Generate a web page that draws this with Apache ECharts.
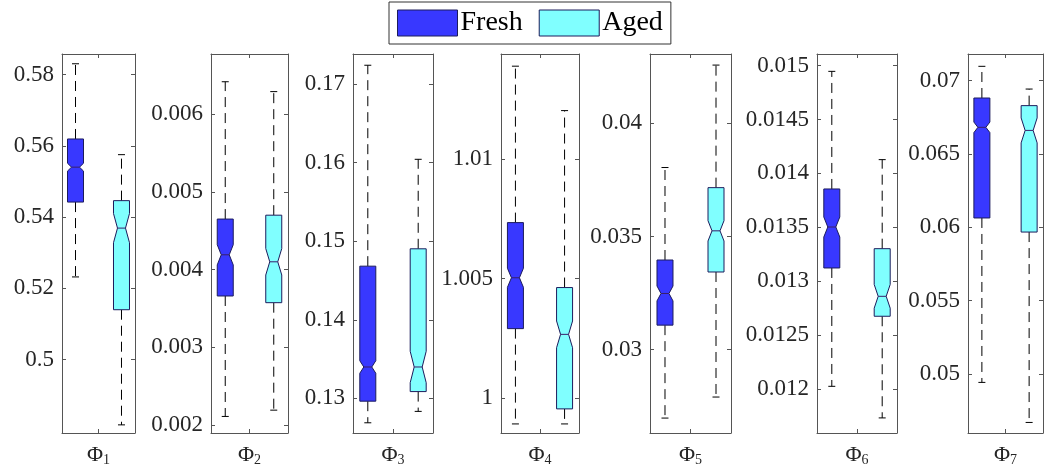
<!DOCTYPE html>
<html>
<head>
<meta charset="utf-8">
<script src="https://cdn.jsdelivr.net/npm/echarts@6/dist/echarts.min.js"></script>
<style>
html,body{margin:0;padding:0;background:#fff;}
#chart{width:1045px;height:471px;}
</style>
</head>
<body>
<div id="chart"></div>
<script>
// ---- data ----
const panelSubs = ['1', '2', '3', '4', '5', '6', '7'];
const groupNames = ['Fresh', 'Aged'];
const groupPos = [0.185, 0.815];

const yMin = [0.47942, 0.001897, 0.1256, 0.99853, 0.02631, 0.011592, 0.04598];
const yMax = [0.58574, 0.006774, 0.17383, 1.0144, 0.04307, 0.015108, 0.07182];
const yTicks = [
  [0.5, 0.52, 0.54, 0.56, 0.58],
  [0.002, 0.003, 0.004, 0.005, 0.006],
  [0.13, 0.14, 0.15, 0.16, 0.17],
  [1, 1.005, 1.01],
  [0.03, 0.035, 0.04],
  [0.012, 0.0125, 0.013, 0.0135, 0.014, 0.0145, 0.015],
  [0.05, 0.055, 0.06, 0.065, 0.07]
];

const freshUpper  = [0.5830, 0.006417, 0.1724, 1.01389, 0.03805, 0.014947, 0.07098];
const freshQ3     = [0.5619, 0.00465,  0.14683, 1.00734, 0.03396, 0.013856, 0.06882];
const freshMedian = [0.5540, 0.00419,  0.1340, 1.00503, 0.03248, 0.013503, 0.06682];
const freshQ1     = [0.5442, 0.00366,  0.12965, 1.0029, 0.03108, 0.013123, 0.06064];
const freshLower  = [0.5232, 0.00211,  0.1269, 0.99891, 0.02697, 0.012025, 0.04943];
const freshNotch  = [0.0011, 0.00013,  0.0008, 0.0004, 0.00033, 0.000093, 0.00036];

const agedUpper  = [0.5575, 0.00629,  0.16043, 1.01203, 0.04258, 0.014128, 0.06943];
const agedQ3     = [0.5446, 0.0047,   0.14904, 1.00462, 0.03716, 0.013302, 0.0683];
const agedMedian = [0.5369, 0.0041,   0.1340, 1.00266, 0.03525, 0.01286, 0.06661];
const agedQ1     = [0.5140, 0.003574, 0.13087, 0.99954, 0.03343, 0.012675, 0.05968];
const agedLower  = [0.4817, 0.002191, 0.12835, 0.99891, 0.0279, 0.011732, 0.0467];
const agedNotch  = [0.0041, 0.00017,  0.0020, 0.00056, 0.00045, 0.00011, 0.00085];

// ---- layout / style ----
const gridLeft  = [62, 211, 353, 501, 650, 817, 968];
const gridWidth = [73, 77, 80, 78, 81, 80, 75];
const gridTop = 54, gridHeight = 379;
const fillColors = ['#3838ff', '#80ffff'];
const edgeColor = '#1c1c5c';
const frameColor = '#555555';
const textColor = '#262626';
const serif = 'Liberation Serif';

const groups = [
  {upper: freshUpper, q3: freshQ3, med: freshMedian, q1: freshQ1, lower: freshLower, notch: freshNotch},
  {upper: agedUpper, q3: agedQ3, med: agedMedian, q1: agedQ1, lower: agedLower, notch: agedNotch}
];

function fmt(v) { return String(+Number(v).toFixed(6)); }

function makeRender(fill) {
  const hw = 8, capHw = 3.5;
  return function (params, api) {
    const x = api.value(0);
    const yOf = k => api.coord([x, api.value(k)])[1];
    const cx = api.coord([x, api.value(4)])[0];
    const yLw = yOf(1), yQ1 = yOf(2), yNl = yOf(3), yMed = yOf(4), yNh = yOf(5), yQ3 = yOf(6), yUw = yOf(7);
    const dash = {stroke: '#000', lineWidth: 1, lineDash: [10, 6], fill: null};
    const solid = {stroke: '#000', lineWidth: 1, fill: null};
    return {
      type: 'group',
      children: [
        {type: 'line', shape: {x1: cx, y1: yQ3, x2: cx, y2: yUw}, style: dash},
        {type: 'line', shape: {x1: cx, y1: yQ1, x2: cx, y2: yLw}, style: dash},
        {type: 'line', shape: {x1: cx - capHw, y1: yUw, x2: cx + capHw, y2: yUw}, style: solid},
        {type: 'line', shape: {x1: cx - capHw, y1: yLw, x2: cx + capHw, y2: yLw}, style: solid},
        {type: 'polygon', shape: {points: [
          [cx - hw, yQ1], [cx + hw, yQ1], [cx + hw, yNl], [cx + hw / 2, yMed], [cx + hw, yNh],
          [cx + hw, yQ3], [cx - hw, yQ3], [cx - hw, yNh], [cx - hw / 2, yMed], [cx - hw, yNl]
        ]}, style: {fill: fill, stroke: edgeColor, lineWidth: 1}},
        {type: 'line', shape: {x1: cx - hw / 2, y1: yMed, x2: cx + hw / 2, y2: yMed}, style: {stroke: '#3a1f6a', lineWidth: 1}}
      ]
    };
  };
}

const grid = [], xAxis = [], yAxis = [], series = [];
panelSubs.forEach((sub, i) => {
  grid.push({left: gridLeft[i], top: gridTop, width: gridWidth[i], height: gridHeight, containLabel: false});
  const lineStyle = {color: frameColor, width: 1};
  ['bottom', 'top'].forEach(pos => {
    xAxis.push({
      gridIndex: i, type: 'value', min: 0, max: 1, position: pos,
      axisLine: {show: true, onZero: false, lineStyle},
      axisTick: {show: true, inside: true, length: 4, customValues: [0.5], lineStyle},
      axisLabel: {
        show: pos === 'bottom', customValues: [0.5], margin: 10,
        formatter: () => '{a|\u03A6}{b|' + sub + '}',
        rich: {
          a: {fontSize: 22, fontFamily: serif, color: textColor},
          b: {fontSize: 14, fontFamily: serif, color: textColor, padding: [10, 0, 0, 0]}
        }
      },
      splitLine: {show: false}
    });
  });
  ['left', 'right'].forEach(pos => {
    yAxis.push({
      gridIndex: i, type: 'value', min: yMin[i], max: yMax[i], position: pos,
      axisLine: {show: true, onZero: false, lineStyle},
      axisTick: {show: true, inside: true, length: 4, customValues: yTicks[i], lineStyle},
      axisLabel: {
        show: pos === 'left', customValues: yTicks[i], margin: 8,
        formatter: v => fmt(v),
        fontSize: 23, fontFamily: serif, color: textColor
      },
      splitLine: {show: false}
    });
  });
  groups.forEach((g, k) => {
    series.push({
      type: 'custom', name: groupNames[k],
      xAxisIndex: 2 * i, yAxisIndex: 2 * i,
      itemStyle: {color: fillColors[k], borderColor: edgeColor},
      renderItem: makeRender(fillColors[k]),
      encode: {x: 0, y: [1, 2, 3, 4, 5, 6, 7]},
      data: [[groupPos[k], g.lower[i], g.q1[i], g.med[i] - g.notch[i], g.med[i], g.med[i] + g.notch[i], g.q3[i], g.upper[i]]],
      silent: true, animation: false
    });
  });
});

const chart = echarts.init(document.getElementById('chart'), null, {renderer: 'canvas'});
chart.setOption({
  animation: false,
  backgroundColor: '#fff',
  legend: {
    left: 389, top: 2,
    padding: [7, 8, 7, 8],
    itemWidth: 60, itemHeight: 26, itemGap: 16,
    borderColor: '#333', borderWidth: 1, backgroundColor: '#fff',
    selectedMode: false,
    textStyle: {fontSize: 28, fontFamily: serif, color: '#000', padding: [0, 0, 0, -2]},
    data: groupNames.map((n, k) => ({name: n, icon: 'rect', itemStyle: {color: fillColors[k], borderColor: edgeColor, borderWidth: 1}}))
  },
  grid, xAxis, yAxis, series
});
</script>
</body>
</html>
